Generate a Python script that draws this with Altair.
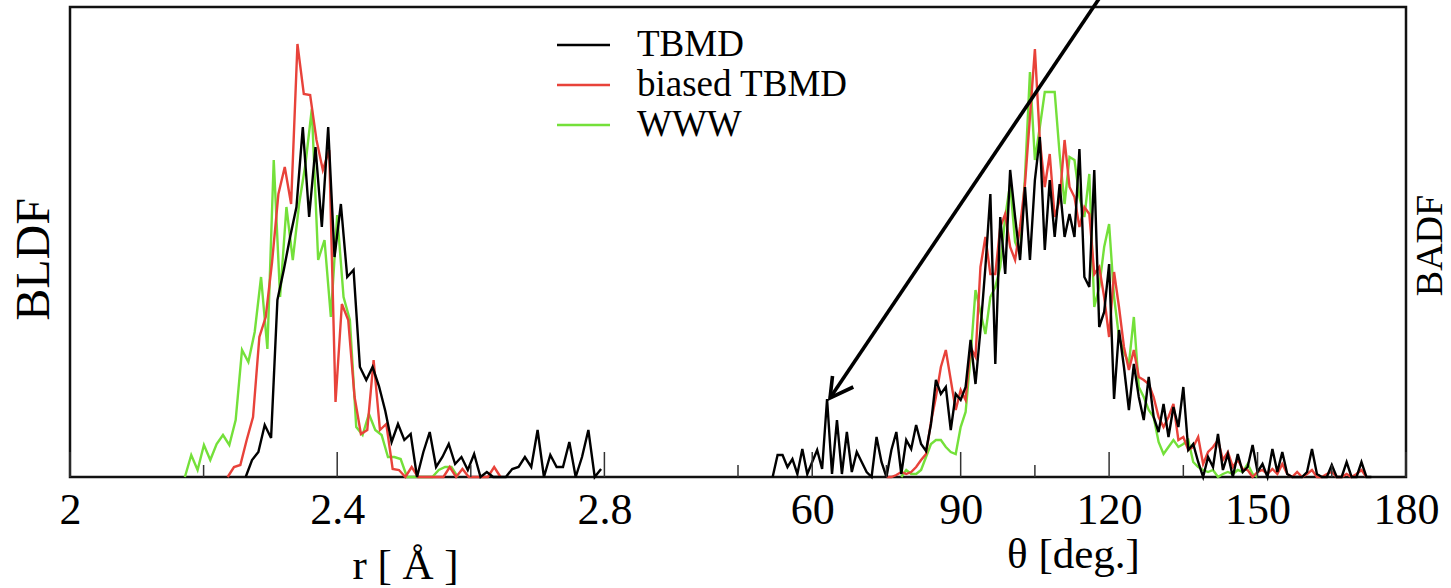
import altair as alt
import pandas as pd

SERIES = ["WWW", "biased TBMD", "TBMD"]
LEGEND_ORDER = ["TBMD", "biased TBMD", "WWW"]
COLORS = ["#000000", "#e8423a", "#74e03a"]
FONT = "Liberation Serif"

# ---- bond-length distribution (BLDF), r in Å ----
R_STEP = 0.0095
R_START = {"TBMD": 2.263, "biased TBMD": 2.236, "WWW": 2.172}
bldf_tbmd = [0, 17, 25, 52, 39, 177, 207, 240, 270, 350, 260, 330, 250, 350, 220,
             273, 200, 207, 110, 97, 110, 91, 66, 35, 53, 37, 43, 0, 25, 45,
             10, 20, 33, 13, 20, 7, 23, 0, 5, 0, 0, 0, 8, 10, 20,
             10, 47, 0, 22, 10, 10, 35, 0, 20, 47, 0, 8]
bldf_biased = [0, 10, 12, 37, 60, 140, 160, 215, 283, 310, 273, 433, 383, 382, 337,
               307, 327, 75, 173, 157, 80, 43, 47, 117, 47, 53, 8, 7, 0, 10,
               0, 0, 0, 0, 0, 10, 0, 8, 0, 0, 0, 0, 10, 0]
bldf_www = [0, 22, 7, 32, 17, 33, 42, 32, 57, 127, 115, 145, 200, 128, 317,
            180, 270, 217, 273, 313, 368, 217, 237, 160, 262, 180, 157, 50, 42, 63,
            47, 42, 20, 20, 18, 0, 0, 0, 0, 0, 7, 10, 10, 0]

# ---- bond-angle distribution (BADF), theta in degrees ----
T_STEP = 1
T_START = {"TBMD": 52, "biased TBMD": 75, "WWW": 78}
badf_tbmd = [0, 22, 22, 10, 18, 3, 28, 3, 15, 27, 8, 78, 3, 57, 3,
             45, 5, 25, 15, 5, 0, 40, 15, 0, 27, 45, 3, 37, 28, 52,
             33, 26, 53, 97, 83, 90, 47, 83, 77, 90, 137, 93, 147, 210, 283,
             113, 260, 203, 307, 260, 217, 290, 217, 297, 340, 227, 297, 240, 293, 240,
             263, 240, 328, 200, 190, 307, 150, 165, 213, 78, 147, 110, 67, 113, 80,
             57, 100, 60, 45, 73, 40, 70, 50, 90, 27, 33, 15, 0, 20, 10,
             43, 7, 23, 0, 23, 5, 10, 32, 5, 13, 0, 28, 5, 25, 3,
             0, 0, 0, 5, 28, 3, 0, 0, 12, 0, 0, 15, 0, 0, 15,
             0, 0]
badf_biased = [0, 0, 2, 5, 3, 5, 10, 17, 23, 55, 80, 110, 127, 97, 67,
               87, 77, 130, 120, 210, 240, 203, 203, 250, 263, 230, 217, 250, 293, 360,
               428, 337, 290, 323, 260, 277, 337, 290, 280, 250, 270, 263, 203, 210, 180,
               140, 205, 170, 130, 107, 127, 100, 97, 93, 80, 60, 50, 60, 73, 37,
               40, 27, 30, 40, 13, 25, 30, 37, 17, 25, 10, 17, 8, 7, 0,
               5, 7, 3, 8, 3, 13, 3, 0, 5, 0, 3, 7, 0, 0, 3,
               5, 0, 0, 3, 0, 3, 7, 0]
badf_www = [0, 7, 3, 3, 7, 20, 33, 37, 37, 30, 25, 23, 50, 65, 120,
            187, 165, 143, 180, 190, 210, 260, 293, 235, 223, 300, 405, 317, 350, 385,
            385, 385, 323, 273, 320, 317, 280, 260, 303, 170, 190, 230, 253, 180, 140,
            125, 113, 160, 90, 80, 67, 60, 35, 23, 30, 37, 30, 33, 37, 15,
            10, 7, 5, 7, 0, 3, 5, 3, 7, 5, 13, 3, 0]

# ---- axes ----
R_DOMAIN = [2, 4]
T_DOMAIN = [-90, 180]
Y_DOMAIN = [0, 470]
R_LABELS = [2, 2.4, 2.8]
T_LABELS = [60, 90, 120, 150, 180]
R_TICKS_MAJOR = [2.0, 2.4, 2.8]
R_TICKS_MINOR = [2.2, 2.6]
T_TICKS_MAJOR = [60, 90, 120, 150, 180]
T_TICKS_MINOR = [45, 75, 105, 135, 165]

# arrow pointing at the small-angle feature (theta, BADF)
ARROW_SHAFT_T = [118.2, 63.6]
ARROW_SHAFT_Y = [480, 79]
ARROW_HEAD_T = [68.3, 63.6, 64.1]
ARROW_HEAD_Y = [90, 79, 101]


def frame(series_values, starts, step, xname):
    rows = []
    for name in SERIES:
        vals = series_values[name]
        for i, v in enumerate(vals):
            rows.append({xname: starts[name] + i * step, "value": v, "series": name, "i": i})
    return pd.DataFrame(rows)


r_df = frame({"TBMD": bldf_tbmd, "biased TBMD": bldf_biased, "WWW": bldf_www},
             R_START, R_STEP, "r")
t_df = frame({"TBMD": badf_tbmd, "biased TBMD": badf_biased, "WWW": badf_www},
             T_START, T_STEP, "theta")

color = alt.Color(
    "series:N",
    scale=alt.Scale(domain=LEGEND_ORDER, range=COLORS),
    sort=LEGEND_ORDER,
    legend=alt.Legend(
        title=None, orient="none", legendX=485.5, legendY=18,
        symbolType="stroke", symbolSize=2809, symbolStrokeWidth=2.5,
        labelFont=FONT, labelFontSize=37, labelColor="#000", labelLimit=500,
        labelOffset=25.5, clipHeight=40, rowPadding=0, padding=0,
    ),
)

r_axis = alt.Axis(
    orient="bottom", values=R_LABELS, format=".1~f", title="r [ Å ]",
    titleX=335, titleY=101, titleBaseline="alphabetic", titleAlign="center",
    labelFlush=False, ticks=False, domain=False, grid=False,
    labelPadding=46, labelBaseline="alphabetic",
)
t_axis = alt.Axis(
    orient="bottom", values=T_LABELS, format="d", title="θ [deg.]",
    titleX=1003, titleY=90, titleBaseline="alphabetic", titleAlign="center",
    labelFlush=False, ticks=False, domain=False, grid=False,
    labelPadding=46, labelBaseline="alphabetic",
)
left_axis = alt.Axis(
    orient="left", title="BLDF", labels=False, ticks=False, domain=False, grid=False,
    titleAngle=270, titleX=-22, titleY=252, titleBaseline="alphabetic", titleAlign="center",
    titleFontSize=48,
)
right_axis = alt.Axis(
    orient="right", title="BADF", labels=False, ticks=False, domain=False, grid=False,
    titleAngle=270, titleX=35, titleY=238, titleBaseline="alphabetic", titleAlign="center",
    titleFontSize=38,
)

rx = alt.Scale(domain=R_DOMAIN, nice=False, zero=False)
tx = alt.Scale(domain=T_DOMAIN, nice=False, zero=False)
ys = alt.Scale(domain=Y_DOMAIN, nice=False, zero=False)

r_lines = alt.Chart(r_df).mark_line(strokeWidth=2.4, interpolate="linear").encode(
    x=alt.X("r:Q", scale=rx, axis=r_axis),
    y=alt.Y("value:Q", scale=ys, axis=left_axis),
    color=color,
    order="i:Q",
)
t_lines = alt.Chart(t_df).mark_line(strokeWidth=2.4, interpolate="linear").encode(
    x=alt.X("theta:Q", scale=tx, axis=t_axis),
    y=alt.Y("value:Q", scale=ys, axis=right_axis),
    color=color,
    order="i:Q",
)

tick_style = dict(color="#333", strokeWidth=1.5)
r_major = alt.Chart(pd.DataFrame({"r": R_TICKS_MAJOR})).mark_rule(**tick_style).encode(
    x=alt.X("r:Q", scale=rx, axis=r_axis), y=alt.value(445), y2=alt.value(470))
r_minor = alt.Chart(pd.DataFrame({"r": R_TICKS_MINOR})).mark_rule(**tick_style).encode(
    x=alt.X("r:Q", scale=rx, axis=r_axis), y=alt.value(458), y2=alt.value(470))
t_major = alt.Chart(pd.DataFrame({"theta": T_TICKS_MAJOR})).mark_rule(**tick_style).encode(
    x=alt.X("theta:Q", scale=tx, axis=t_axis), y=alt.value(445), y2=alt.value(470))
t_minor = alt.Chart(pd.DataFrame({"theta": T_TICKS_MINOR})).mark_rule(**tick_style).encode(
    x=alt.X("theta:Q", scale=tx, axis=t_axis), y=alt.value(458), y2=alt.value(470))

shaft = alt.Chart(pd.DataFrame({"theta": ARROW_SHAFT_T, "value": ARROW_SHAFT_Y, "k": [0, 1]})).mark_line(
    color="#000", strokeWidth=3.6, clip=False).encode(
    x=alt.X("theta:Q", scale=tx, axis=t_axis),
    y=alt.Y("value:Q", scale=ys, axis=right_axis), order="k:Q")
head = alt.Chart(pd.DataFrame({"theta": ARROW_HEAD_T, "value": ARROW_HEAD_Y, "k": [0, 1, 2]})).mark_line(
    color="#000", strokeWidth=3.6, clip=False, strokeJoin="miter").encode(
    x=alt.X("theta:Q", scale=tx, axis=t_axis),
    y=alt.Y("value:Q", scale=ys, axis=right_axis), order="k:Q")

r_layer = alt.layer(r_lines, r_major, r_minor)
t_layer = alt.layer(t_lines, t_major, t_minor, shaft, head)

chart = (
    alt.layer(r_layer, t_layer)
    .resolve_scale(x="independent", y="independent")
    .properties(
        width=1336, height=470,
        padding={"left": 70, "top": 7, "right": 45, "bottom": 111},
        autosize=alt.AutoSizeParams(type="none"),
        background="#ffffff",
    )
    .configure_view(stroke="#111", strokeWidth=2.5)
    .configure_axis(
        labelFont=FONT, labelFontSize=44, labelColor="#000",
        titleFont=FONT, titleFontSize=43, titleFontWeight="normal", titleColor="#000",
    )
)

chart.save("out.html", embed_options={"renderer": "svg", "actions": False})
